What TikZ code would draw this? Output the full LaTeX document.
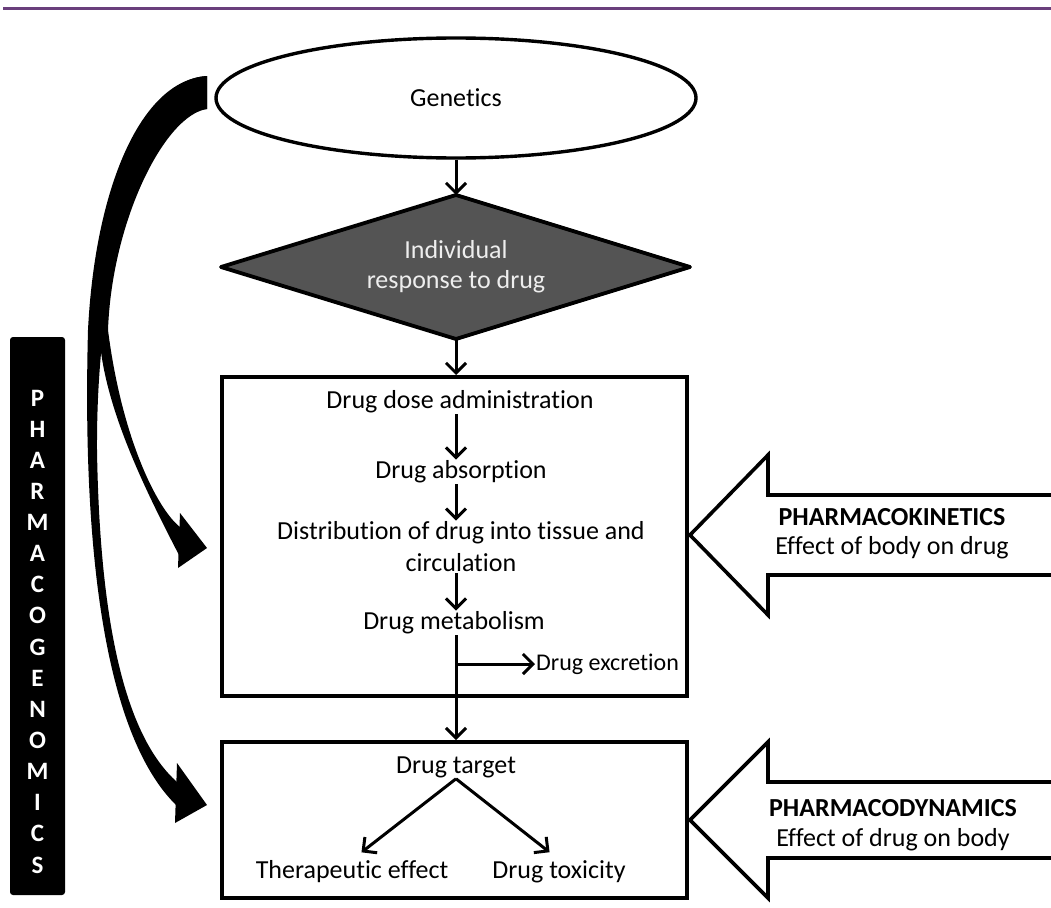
\documentclass[tikz,border=0pt]{standalone}
\usepackage{fontspec}
\setmainfont{Carlito}[Ligatures=NoCommon]
\usetikzlibrary{arrows.meta,shapes.geometric,calc}
\definecolor{topline}{HTML}{6A3F7C}
\definecolor{dgray}{HTML}{545454}
\definecolor{ltext}{HTML}{EEEEEE}
\begin{document}
\begin{tikzpicture}[x=1pt,y=-1pt,
  arr/.style={line width=3pt, -{Straight Barb[length=10pt,width=20pt]}},
  frame/.style={draw, line width=4pt, inner sep=0pt},
  txt/.style={font=\fontsize{26}{30}\selectfont, inner sep=1pt, align=center},
  hollow/.style={draw, line width=3.6pt, line join=miter},
  ]
\useasboundingbox (0,0) rectangle (1051,907);
\draw[topline, line width=3pt] (3,9) -- (1051,9);

% Genetics ellipse
\node (gen) [ellipse, draw, line width=3.4pt, minimum width=480, minimum height=120, txt] at (456,98) {Genetics};

% diamond
\coordinate (dT) at (456,195);
\coordinate (dR) at (690,267);
\coordinate (dB) at (456,339);
\coordinate (dL) at (221,267);
\filldraw[fill=dgray, line width=3.8pt, line join=round] (dT) -- (dR) -- (dB) -- (dL) -- cycle;
\node (indiv) [txt, text=ltext] at (456,267) {Individual\\response to drug};
\draw[arr] (gen.south) -- (dT);

% box 1
\node (box1) [frame, minimum width=465, minimum height=319] at (454.5,536.5) {};
\coordinate (colx) at (456,0);
\draw[arr] (dB) -- (dB |- box1.north);
\node (dose) [txt] at (460,402) {Drug dose administration};
\node (absorb) [txt] at (461,472) {Drug absorption};
\node (distr) [txt, font=\fontsize{26}{32}\selectfont] at (461,547) {Distribution of drug into tissue and\\circulation};
\node (metab) [txt] at (454,623) {Drug metabolism};
\node (excr) [txt, font=\fontsize{24}{28}\selectfont, anchor=west] at (535,664) {Drug excretion};
\draw[arr] (dose.south -| colx) -- (absorb.north -| colx);
\draw[arr] (absorb.south -| colx) -- (distr.north -| colx);
\draw[arr] (distr.south -| colx) -- (metab.north -| colx);

% box 2
\node (box2) [frame, minimum width=465, minimum height=156] at (454.5,820) {};
\draw[arr] (metab.south -| colx) -- (box2.north -| colx);
\coordinate (br) at (456,664);
\draw[arr] (br) -- (excr.west);
\node (target) [txt] at (456,767) {Drug target};
\node (therap) [txt] at (352,872) {Therapeutic effect};
\node (tox) [txt] at (559,872) {Drug toxicity};
\draw[arr, shorten >=12pt] (target.south) -- (therap.north);
\draw[arr, shorten >=12pt] (target.south) -- (tox.north);

% hollow arrows
\draw[hollow] (1056,495) -- (768,495) -- (768,455) -- (690,535) -- (768,615) -- (768,575) -- (1056,575);
\node (pkl) [txt, font=\fontsize{26}{29}\selectfont] at (892,534) {\textbf{PHARMACOKINETICS}\\Effect of body on drug};
\draw[hollow] (1056,782) -- (768,782) -- (768,742) -- (690,820) -- (768,898) -- (768,858) -- (1056,858);
\node (pdl) [txt, font=\fontsize{26}{30}\selectfont] at (893,825) {\textbf{PHARMACODYNAMICS}\\Effect of drug on body};

% pharmacogenomics bar
\node (bar) [fill=black, rounded corners=3pt, minimum width=55, minimum height=558, inner sep=0pt] at (37.5,616) {};
\node (pgx) [text=white, font=\fontsize{25}{31.13}\selectfont\bfseries, align=center, inner sep=0pt] at (37.5,631.5) {P\\H\\A\\R\\M\\A\\C\\O\\G\\E\\N\\O\\M\\I\\C\\S};

% curved black arrows
\fill (207,76) .. controls (140,80) and (100,200) .. (99,330)
  .. controls (102,400) and (140,480) .. (179,555) -- (180,527)
  .. controls (158,510) and (122,440) .. (108,330)
  .. controls (112,220) and (165,115) .. (207,109) -- cycle;
\fill (180,513) -- (207,548) -- (178,568) -- cycle;
\fill (207,76) .. controls (140,80) and (95,190) .. (88,330)
  .. controls (84,480) and (90,720) .. (176,805) -- (177,782)
  .. controls (130,740) and (100,640) .. (97,450)
  .. controls (96,250) and (150,110) .. (207,109) -- cycle;
\fill (177,763) -- (207,805) -- (175,823) -- cycle;
\end{tikzpicture}
\end{document}
